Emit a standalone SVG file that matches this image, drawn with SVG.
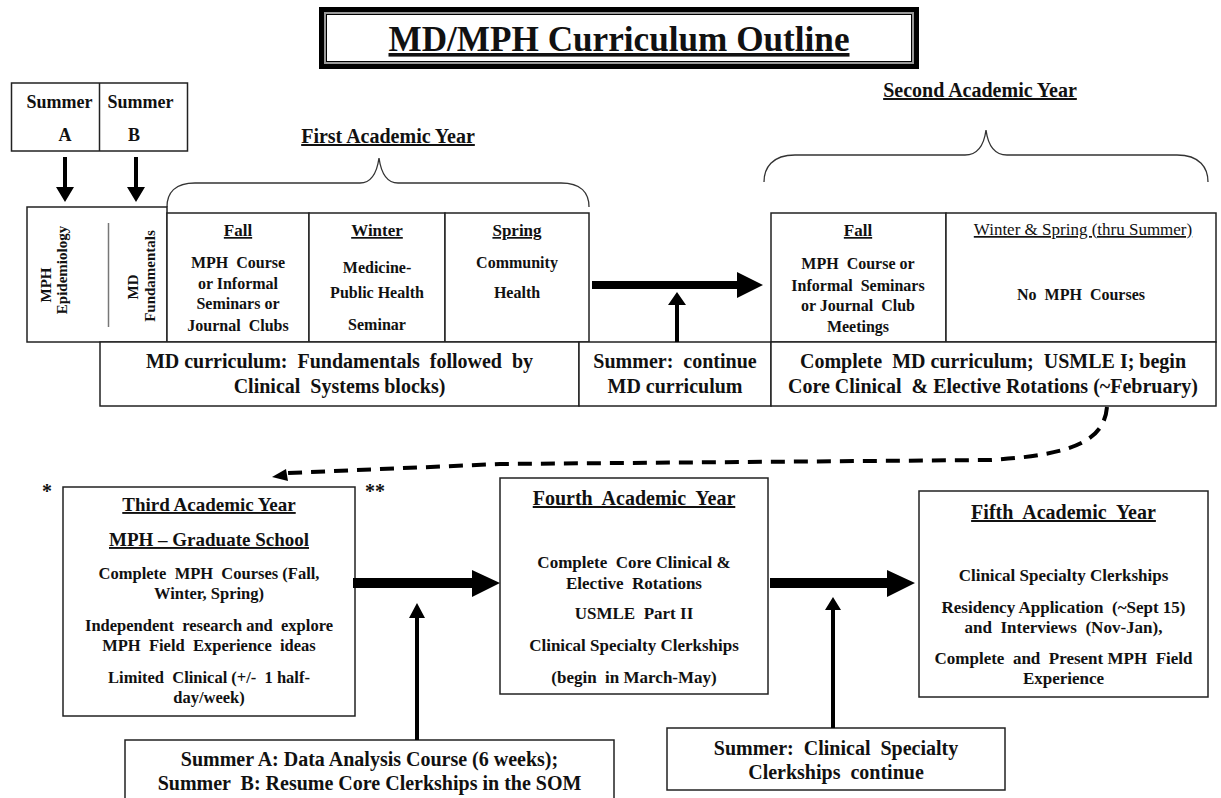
<svg xmlns="http://www.w3.org/2000/svg" width="1221" height="798" viewBox="0 0 1221 798" xml:space="preserve">
<style>
text{font-family:"Liberation Serif","Times New Roman",serif;font-weight:bold;fill:#111;text-anchor:middle;white-space:pre}
.u{text-decoration:underline}
.box{fill:#fff;stroke:#222;stroke-width:1.5}
.f15{font-size:15px}.f16{font-size:16px}.f165{font-size:16.5px}.f17{font-size:17px}.f18{font-size:18px}.f19{font-size:19px}.f20{font-size:20px}
.thin{font-weight:normal}
.arr{fill:#000}
</style>
<rect width="1221" height="798" fill="#fff"/>
<g id="title">
<rect x="321.5" y="9.5" width="595" height="57" fill="#fff" stroke="#000" stroke-width="5"/>
<rect x="325" y="13" width="588" height="50" fill="none" stroke="#999" stroke-width="2"/>
<rect x="326.5" y="14.5" width="585" height="47" fill="none" stroke="#000" stroke-width="1"/>
<text x="619" y="51" class="u" style="font-size:36px" textLength="461" lengthAdjust="spacingAndGlyphs">MD/MPH Curriculum Outline</text>
</g>
<g id="summer-ab">
<rect x="11.5" y="83" width="176" height="68" class="box"/>
<line x1="99.5" y1="83" x2="99.5" y2="151" stroke="#222" stroke-width="1.5"/>
<text x="59.5" y="108" class="f18">Summer</text>
<text x="140.5" y="108" class="f18">Summer</text>
<text x="65" y="141" class="f18">A</text>
<text x="134" y="141" class="f18">B</text>
</g>
<g id="first-year-label">
<text x="388" y="143" class="f20 u">First Academic Year</text>
<path d="M167,207 C167,193 175,183 195,183 L360,183 C372,183 377,172 379,158 C381,172 386,183 398,183 L561,183 C581,183 589,193 589,207" fill="none" stroke="#333" stroke-width="1.3"/>
</g>
<g id="second-year-label">
<text x="980" y="97" class="f20 u">Second Academic Year</text>
<path d="M764,182 C764,168 772,155 795,155 L965,155 C978,155 984,145 986,130 C988,145 994,155 1007,155 L1177,155 C1200,155 1208,168 1208,182" fill="none" stroke="#333" stroke-width="1.3"/>
</g>
<g id="epi-box">
<rect x="27" y="207" width="140" height="135" class="box"/>
<line x1="108.5" y1="223" x2="108.5" y2="327" stroke="#777" stroke-width="1.5"/>
<text class="f15" transform="translate(51,285) rotate(-90)">MPH</text>
<text class="f15" transform="translate(67,270) rotate(-90)">Epidemiology</text>
<text class="f15" transform="translate(138,287) rotate(-90)">MD</text>
<text class="f15" transform="translate(155,276) rotate(-90)">Fundamentals</text>
</g>
<g id="y1-fall">
<rect x="167" y="213" width="142" height="129" class="box"/>
<text x="238" y="236" class="f17 u">Fall</text>
<text x="238" y="268" class="f16">MPH  Course</text>
<text x="238" y="289" class="f16">or Informal</text>
<text x="238" y="309" class="f16">Seminars or</text>
<text x="238" y="331" class="f16">Journal  Clubs</text>
</g>
<g id="y1-winter">
<rect x="309" y="213" width="136" height="129" class="box"/>
<text x="377" y="236" class="f17 u">Winter</text>
<text x="377" y="273" class="f16">Medicine-</text>
<text x="377" y="298" class="f16">Public Health</text>
<text x="377" y="330" class="f16">Seminar</text>
</g>
<g id="y1-spring">
<rect x="445" y="213" width="144" height="129" class="box"/>
<text x="517" y="236" class="f17 u">Spring</text>
<text x="517" y="268" class="f16">Community</text>
<text x="517" y="298" class="f16">Health</text>
</g>
<g id="y2-fall">
<rect x="771" y="213" width="175" height="129" class="box"/>
<text x="858" y="236" class="f17 u">Fall</text>
<text x="858" y="269" class="f16">MPH  Course or</text>
<text x="858" y="291" class="f16">Informal  Seminars</text>
<text x="858" y="311" class="f16">or Journal  Club</text>
<text x="858" y="332" class="f16">Meetings</text>
</g>
<g id="y2-winter-spring">
<rect x="946" y="213" width="270" height="129" class="box"/>
<text x="1083" y="235" class="f17 u thin">Winter &amp; Spring (thru Summer)</text>
<text x="1081" y="300" class="f16">No  MPH  Courses</text>
</g>
<g id="md-curriculum">
<rect x="100" y="342" width="479" height="64" class="box"/>
<text x="339.5" y="368" class="f20">MD curriculum:  Fundamentals  followed  by</text>
<text x="339.5" y="393" class="f20">Clinical  Systems blocks)</text>
</g>
<g id="summer-continue">
<rect x="579" y="342" width="192" height="64" class="box"/>
<text x="675" y="368" class="f20">Summer:  continue</text>
<text x="675" y="393" class="f20">MD curriculum</text>
</g>
<g id="complete-md">
<rect x="771" y="342" width="445" height="64" class="box"/>
<text x="993" y="368" class="f20">Complete  MD curriculum;  USMLE I; begin</text>
<text x="993" y="393" class="f20">Core Clinical  &amp; Elective Rotations (~February)</text>
</g>
<g id="third-year">
<text x="47" y="498" class="f20">*</text>
<text x="375" y="498" class="f20">**</text>
<rect x="63" y="487" width="292" height="229" class="box"/>
<text x="209" y="511" class="f19 u">Third Academic Year</text>
<text x="209" y="546" class="f19 u">MPH – Graduate School</text>
<text x="209" y="579" class="f165">Complete  MPH  Courses (Fall,</text>
<text x="209" y="599" class="f165">Winter, Spring)</text>
<text x="209" y="631" class="f165">Independent  research and  explore</text>
<text x="209" y="651" class="f165">MPH  Field  Experience  ideas</text>
<text x="209" y="683" class="f165">Limited  Clinical (+/-  1 half-</text>
<text x="209" y="703" class="f165">day/week)</text>
</g>
<g id="fourth-year">
<rect x="500" y="478" width="268" height="216" class="box"/>
<text x="634" y="505" class="f20 u">Fourth  Academic  Year</text>
<text x="634" y="568" class="f17">Complete  Core Clinical &amp;</text>
<text x="634" y="589" class="f17">Elective  Rotations</text>
<text x="634" y="619" class="f17">USMLE  Part II</text>
<text x="634" y="651" class="f17">Clinical Specialty Clerkships</text>
<text x="634" y="683" class="f17">(begin  in March-May)</text>
</g>
<g id="fifth-year">
<rect x="919" y="491" width="289" height="206" class="box"/>
<text x="1063.5" y="519" class="f20 u">Fifth  Academic  Year</text>
<text x="1063.5" y="581" class="f17">Clinical Specialty Clerkships</text>
<text x="1063.5" y="613" class="f17">Residency Application  (~Sept 15)</text>
<text x="1063.5" y="633" class="f17">and  Interviews  (Nov-Jan),</text>
<text x="1063.5" y="664" class="f17">Complete  and  Present MPH  Field</text>
<text x="1063.5" y="684" class="f17">Experience</text>
</g>
<g id="summer-a-b">
<rect x="125" y="740" width="489" height="70" class="box"/>
<text x="369.5" y="766" class="f20">Summer A: Data Analysis Course (6 weeks);</text>
<text x="369.5" y="790" class="f20">Summer  B: Resume Core Clerkships in the SOM</text>
</g>
<g id="summer-clinical">
<rect x="667" y="728" width="338" height="62" class="box"/>
<text x="836" y="755" class="f20">Summer:  Clinical  Specialty</text>
<text x="836" y="779" class="f20">Clerkships  continue</text>
</g>
<g id="connectors">
<polygon class="arr" points="63,157 67,157 67,187 74,187 65,202 56,187 63,187"/>
<polygon class="arr" points="134,157 138,157 138,187 145,187 136,202 127,187 134,187"/>
<polygon class="arr" points="592,281 737,281 737,272 763,285 737,298 737,289 592,289"/>
<polygon class="arr" points="675,342 675,305 668,305 677,292 686,305 679,305 679,342"/>
<path d="M1107,407 C1104,440 1075,455 990,460 L500,464 L288,473" fill="none" stroke="#000" stroke-width="4" stroke-dasharray="14 9"/>
<polygon class="arr" points="272,477 286,469 288,481"/>
<polygon class="arr" points="353,578 472,578 472,570 500,583 472,597 472,588 353,588"/>
<polygon class="arr" points="415,740 415,618 409,618 417,603 425,618 419,618 419,740"/>
<polygon class="arr" points="770,578 887,578 887,570 915,583 887,597 887,588 770,588"/>
<polygon class="arr" points="831,728 831,610 825,610 833,597 841,610 835,610 835,728"/>
</g>
</svg>
